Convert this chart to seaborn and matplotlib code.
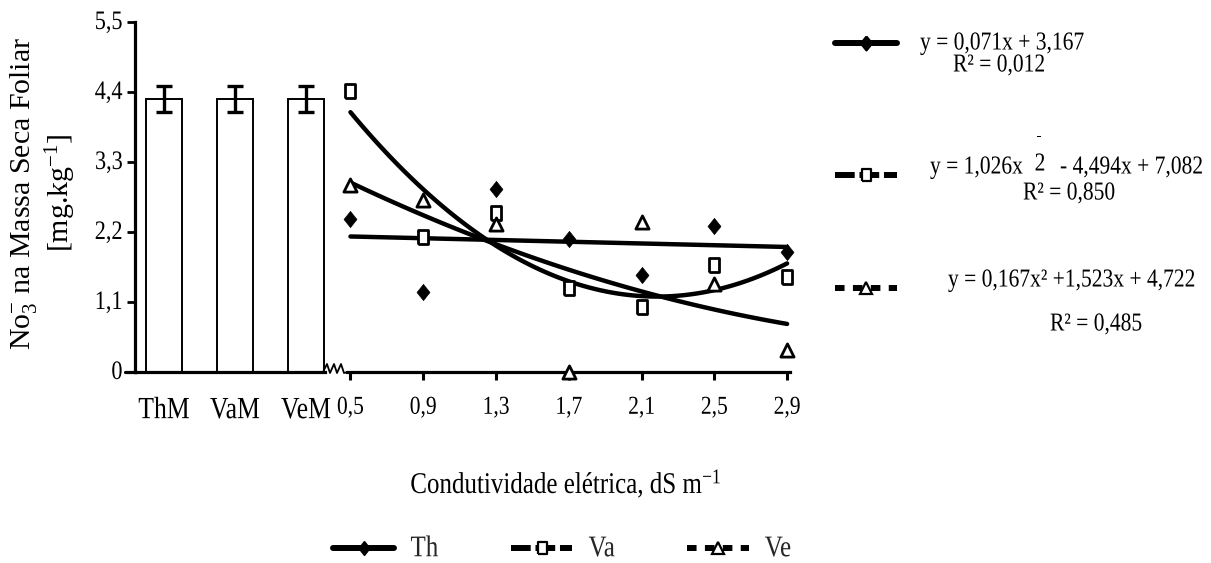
import numpy as np
import pandas as pd
import matplotlib
matplotlib.use("Agg")
import matplotlib.pyplot as plt
from matplotlib.lines import Line2D
from matplotlib.patheffects import AbstractPathEffect
from matplotlib.transforms import Affine2D
import seaborn as sns

# Control treatments (no saline water): means and error
mean_labels = ["ThM", "VaM", "VeM"]
mean_values = [4.29, 4.29, 4.29]
mean_errors = [0.21, 0.21, 0.21]

# Electrical conductivity of irrigation water (dS m-1)
ec_levels = [0.5, 0.9, 1.3, 1.7, 2.1, 2.5, 2.9]
ec_labels = ["0,5", "0,9", "1,3", "1,7", "2,1", "2,5", "2,9"]

# NO3- in leaf dry mass for each cultivar
no3_th = [2.40, 1.25, 2.87, 2.09, 1.53, 2.30, 1.89]
no3_va = [4.41, 2.12, 2.50, 1.32, 1.02, 1.68, 1.50]
no3_ve = [2.94, 2.70, 2.33, 0.00, 2.35, 1.39, 0.35]

y_ticks = [0, 1.1, 2.2, 3.3, 4.4, 5.5]
y_tick_labels = ["0", "1,1", "2,2", "3,3", "4,4", "5,5"]

series_names = ["Th", "Va", "Ve"]


class Tall(AbstractPathEffect):
    """Draw glyphs stretched vertically about their baseline."""

    def __init__(self, sy=1.2):
        super().__init__()
        self.sy = sy

    def draw_path(self, renderer, gc, tpath, affine, rgbFace=None):
        renderer.draw_path(gc, tpath, Affine2D().scale(1, self.sy) + affine,
                           rgbFace)


TALL = [Tall(1.2)]

sns.set_theme(style="white")
plt.rcParams["font.family"] = ["Liberation Serif", "DejaVu Serif"]
plt.rcParams["mathtext.fontset"] = "custom"
plt.rcParams["mathtext.rm"] = "Liberation Serif"
plt.rcParams["mathtext.it"] = "Liberation Serif:italic"
plt.rcParams["mathtext.bf"] = "Liberation Serif:bold"

W, H = 1211, 563
fig = plt.figure(figsize=(W / 100, H / 100), dpi=100)
fig.patch.set_facecolor("white")


def fx(px):
    return px / W


def fy(py):
    return 1 - py / H


def ftext(x, y, s, **kw):
    t = fig.text(fx(x), fy(y), s, color="black", **kw)
    t.set_path_effects(TALL)
    return t


# markers: tall diamond and tall rectangle
diamond = [(0, 1), (0.8, 0), (0, -1), (-0.8, 0), (0, 1)]
rect = [(-0.72, -1), (0.72, -1), (0.72, 1), (-0.72, 1), (-0.72, -1)]

ax1 = fig.add_axes([fx(135), fy(372), fx(325) - fx(135), 350 / H])
ax2 = fig.add_axes([fx(347), fy(372), fx(790) - fx(347), 350 / H], sharey=ax1)

# ---- left panel: control bars ----
df_mean = pd.DataFrame({"trat": mean_labels, "no3": mean_values})
sns.barplot(data=df_mean, x="trat", y="no3", ax=ax1, color="white",
            edgecolor="black", linewidth=1.4, width=0.52, errorbar=None,
            saturation=1)
ax1.errorbar(np.arange(len(mean_values)), mean_values, yerr=mean_errors,
             fmt="none", ecolor="black", elinewidth=2.4, capsize=5.5,
             capthick=2.4, zorder=4)
ax1.set_xlim(-0.408, 2.268)
ax1.set_ylim(0, 5.5)
ax1.set_yticks(y_ticks)
ax1.set_yticklabels(y_tick_labels)
ax1.set_xlabel("")
ax1.set_ylabel("")
ax1.tick_params(axis="x", length=0, labelsize=18.5, pad=21, colors="black")
ax1.tick_params(axis="y", direction="out", length=6, width=2, labelsize=16,
                pad=3, colors="black", left=True)
for s in ["top", "right"]:
    ax1.spines[s].set_visible(False)
for s in ["left", "bottom"]:
    ax1.spines[s].set_color("black")
    ax1.spines[s].set_linewidth(2.3)
ax1.patch.set_alpha(0)

# ---- right panel: response to salinity ----
line_kw = dict(color="black", lw=3.2, solid_capstyle="round")
sns.regplot(x=ec_levels, y=no3_th, order=1, ci=None, scatter=False, ax=ax2,
            line_kws=line_kw)
sns.regplot(x=ec_levels, y=no3_va, order=2, ci=None, scatter=False, ax=ax2,
            line_kws=line_kw)
sns.regplot(x=ec_levels, y=no3_ve, order=2, ci=None, scatter=False, ax=ax2,
            line_kws=line_kw)

sns.scatterplot(x=ec_levels, y=no3_th, marker=diamond, s=135, color="black",
                edgecolor="black", linewidth=0.5, ax=ax2, zorder=5,
                clip_on=False)
sns.scatterplot(x=ec_levels, y=no3_va, marker=rect, s=115, facecolor="white",
                edgecolor="black", linewidth=2.0, ax=ax2, zorder=5,
                clip_on=False)
sns.scatterplot(x=ec_levels, y=no3_ve, marker="^", s=90, facecolor="white",
                edgecolor="black", linewidth=2.0, ax=ax2, zorder=5,
                clip_on=False)

ax2.set_xlim(0.481, 2.916)
ax2.set_xticks(ec_levels)
ax2.set_xticklabels(ec_labels)
ax2.set_xlabel("")
ax2.set_ylabel("")
ax2.tick_params(axis="x", direction="out", length=6, width=2.2,
                labelsize=15.5, pad=14, colors="black", bottom=True)
ax2.tick_params(axis="y", left=False, labelleft=False)
for s in ["top", "right", "left"]:
    ax2.spines[s].set_visible(False)
ax2.spines["bottom"].set_color("black")
ax2.spines["bottom"].set_linewidth(2.3)
ax2.patch.set_alpha(0)

for lab in (ax1.get_xticklabels() + ax1.get_yticklabels()
            + ax2.get_xticklabels()):
    lab.set_path_effects(TALL)

# axis break between the two panels
zx = [323, 327, 330, 334, 337, 341, 344, 348]
zy = [372, 364, 373, 364, 373, 364, 373, 372]
fig.add_artist(Line2D([fx(v) for v in zx], [fy(v) for v in zy],
                      color="black", lw=1.3, transform=fig.transFigure))
# x axis stub left of the y axis
fig.add_artist(Line2D([fx(125), fx(136)], [fy(372), fy(372)], color="black",
                      lw=2.3, transform=fig.transFigure))

# ---- axis titles ----
fig.text(fx(43), fy(193),
         "No$_3^{\\mathrm{-}}$ na Massa Seca Foliar\n[mg.kg$^{\\mathrm{-1}}$]",
         rotation=90, ha="center", va="center", fontsize=21.5,
         linespacing=1.15, color="black")
ftext(566, 485, "Condutividade elétrica, dS m$^{\\mathrm{-1}}$",
      ha="center", va="center", fontsize=18)

# ---- regression equations with their keys ----
def key(y, style, marker, mfc, ms):
    xs = [fx(835), fx(866), fx(897)]
    ys = [fy(y)] * 3
    fig.add_artist(Line2D(xs, ys, color="black", lw=4.3, markevery=[1],
                          marker=marker, markersize=ms, markerfacecolor=mfc,
                          markeredgecolor="black", markeredgewidth=1.6,
                          transform=fig.transFigure, **style))


key(43, dict(linestyle="-"), diamond, "black", 10)
key(175, dict(dashes=(3.3, 0.8)), rect, "white", 9)
key(288, dict(dashes=(1.6, 1.4)), "^", "white", 8.5)

eq_fs = 15.5
ftext(920, 45, "y = 0,071x + 3,167", fontsize=eq_fs, ha="left", va="center")
ftext(953, 67, "R² = 0,012", fontsize=eq_fs, ha="left", va="center")

ftext(930, 169, "y = 1,026x", fontsize=eq_fs, ha="left", va="center")
ftext(1040, 166, "2", fontsize=eq_fs, ha="center", va="center")
ftext(1039, 137, "-", fontsize=10, ha="center", va="center")
ftext(1060, 169, "- 4,494x + 7,082", fontsize=eq_fs, ha="left", va="center")
ftext(1023, 195, "R² = 0,850", fontsize=eq_fs, ha="left", va="center")

ftext(948, 282, "y = 0,167x² +1,523x + 4,722", fontsize=eq_fs,
      ha="left", va="center")
ftext(1050, 326, "R² = 0,485", fontsize=eq_fs, ha="left", va="center")

# ---- bottom legend ----
handles = [
    Line2D([], [], color="black", lw=4.3, marker=diamond, markersize=10,
           markerfacecolor="black", markeredgecolor="black"),
    Line2D([], [], color="black", lw=4.3, dashes=(3.3, 0.8), marker=rect,
           markersize=9, markerfacecolor="white", markeredgecolor="black",
           markeredgewidth=1.6),
    Line2D([], [], color="black", lw=4.3, dashes=(1.6, 1.4), marker="^",
           markersize=8.5, markerfacecolor="white", markeredgecolor="black",
           markeredgewidth=1.6),
]
leg = fig.legend(handles, series_names, loc="center left",
                 bbox_to_anchor=(fx(333), fy(550)), ncol=3, frameon=False,
                 fontsize=18, handlelength=2.45, handletextpad=0.65,
                 columnspacing=2.9, borderpad=0, borderaxespad=0)
for t in leg.get_texts():
    t.set_path_effects(TALL)

fig.savefig("out.png", dpi=100, facecolor="white")
